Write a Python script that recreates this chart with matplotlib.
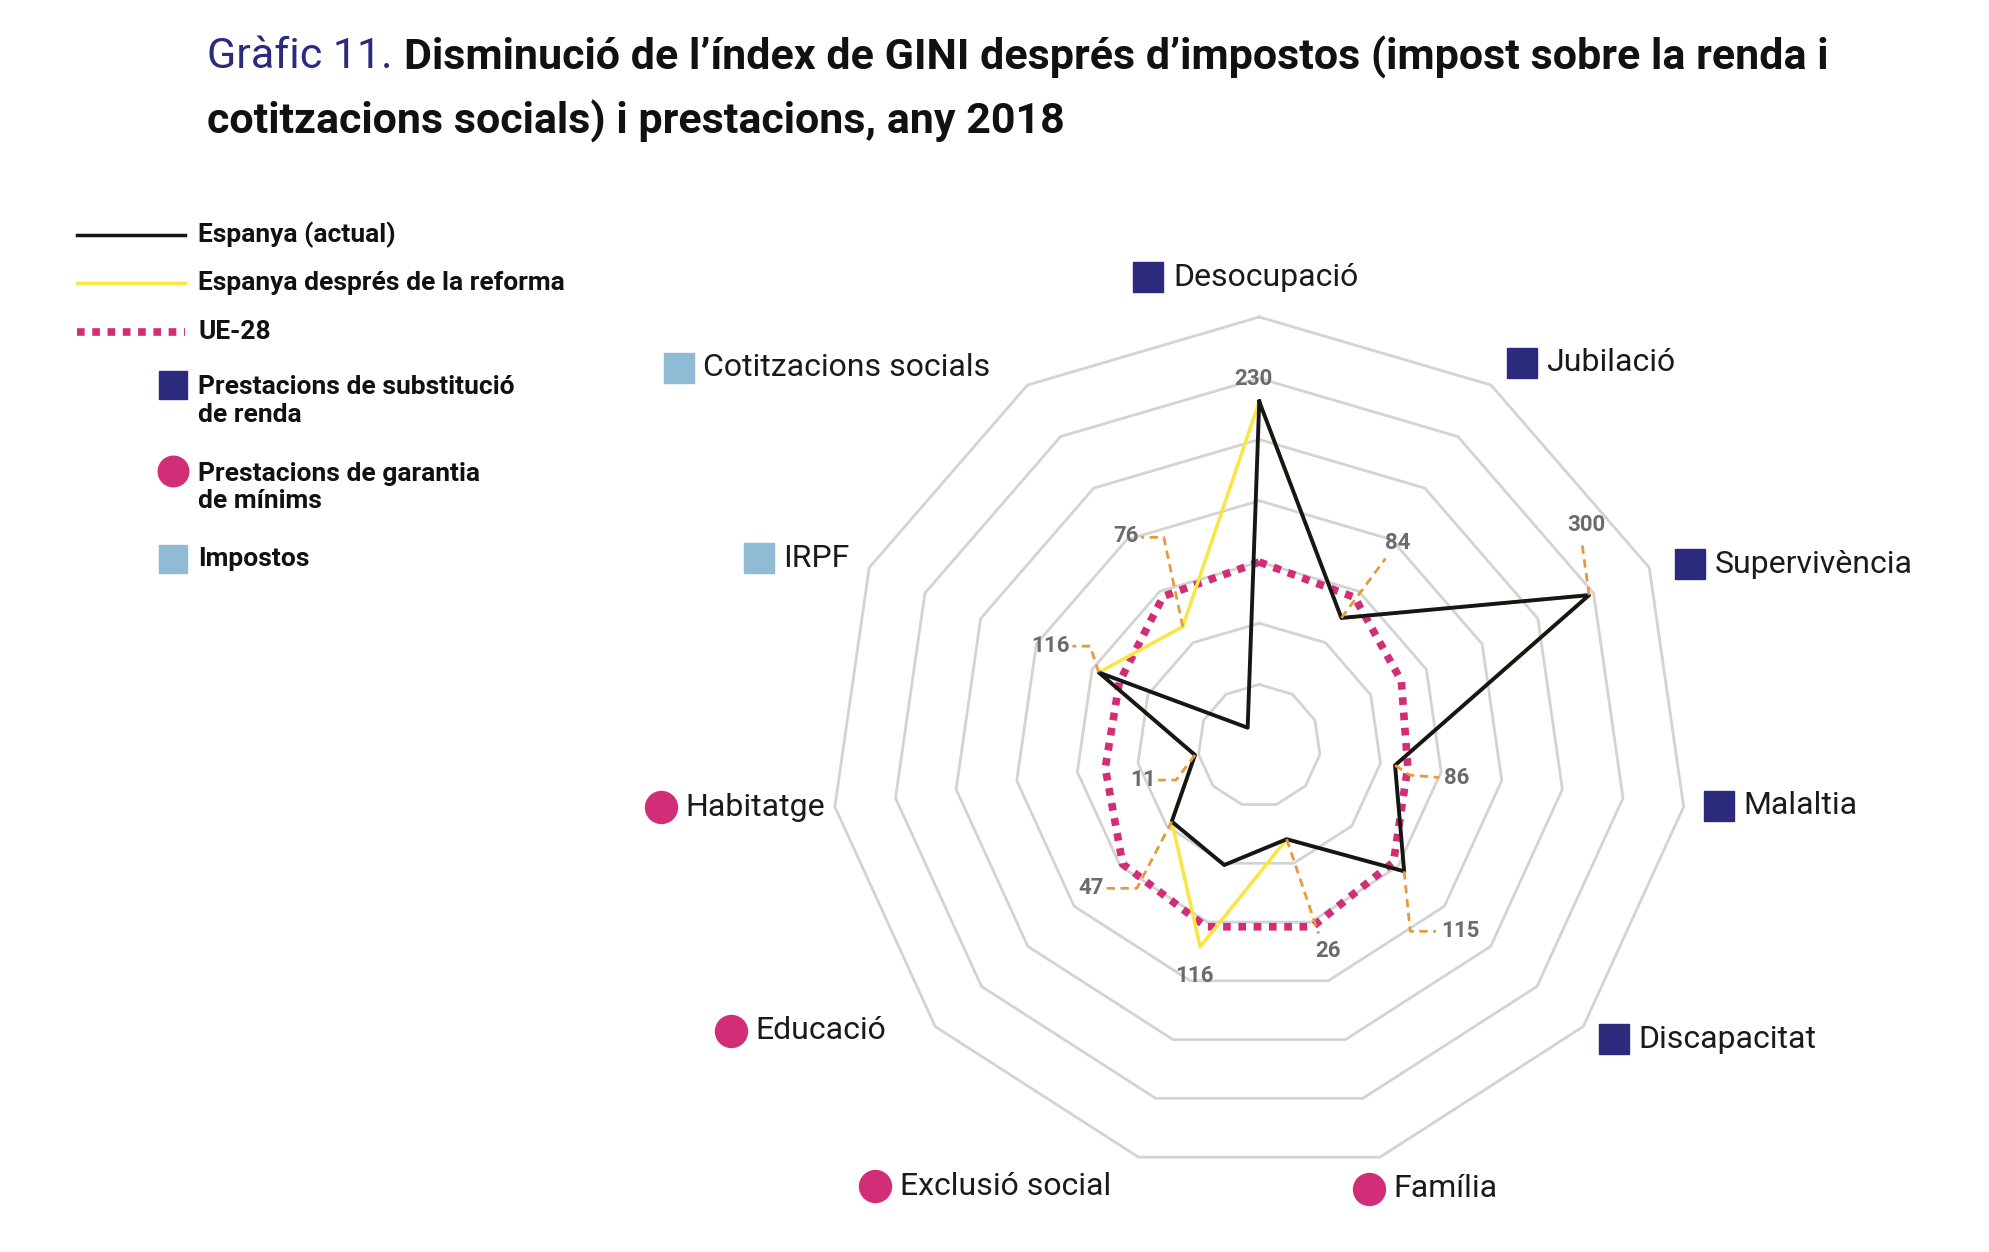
import numpy as np
import matplotlib.pyplot as plt

plt.rcParams['font.family'] = ['Roboto', 'DejaVu Sans']

categories = ['Desocupació', 'Jubilació', 'Supervivència', 'Malaltia', 'Discapacitat',
              'Família', 'Exclusió social', 'Educació', 'Habitatge', 'IRPF', 'Cotitzacions socials']
cat_type = ['renda', 'renda', 'renda', 'renda', 'renda',
            'minims', 'minims', 'minims', 'minims', 'impost', 'impost']
# values in ring units (7 rings)
espanya = [5.62, 2.48, 5.92, 2.24, 3.13, 1.59, 2.03, 1.89, 1.06, 2.88, 0.35]
reforma = [5.62, 2.48, 5.92, 2.24, 3.13, 1.59, 3.42, 1.89, 1.06, 2.88, 2.31]
ue28 = [3.0, 2.88, 2.55, 2.45, 2.9, 3.08, 3.08, 2.95, 2.54, 2.51, 2.9]
value_labels = ['230', '84', '300', '86', '115', '26', '116', '47', '11', '116', '76']

navy = '#2b2a7c'
pink = '#d12e77'
lblue = '#8fbcd4'
orange = '#e59a3c'
marker_col = {'renda': (navy, 's'), 'minims': (pink, 'o'), 'impost': (lblue, 's')}

n = len(categories)
theta = np.arange(n) * 2 * np.pi / n

def xy(r, t=theta):
    r = np.asarray(r, float)
    return r * np.sin(t), r * np.cos(t)

fig = plt.figure(figsize=(19.9, 12.52), dpi=100)
ax = fig.add_axes([708 / 1990, -45 / 1252, 1102.5 / 1990, 1102.5 / 1252])
ax.set_xlim(-9, 9)
ax.set_ylim(-9, 9)
ax.set_aspect('equal')
ax.axis('off')

for k in range(1, 8):
    x, y = xy(np.full(n, k))
    ax.plot(np.r_[x, x[0]], np.r_[y, y[0]], color='#d3d3d3', lw=2, zorder=1)

def closed(v):
    x, y = xy(v)
    return np.r_[x, x[0]], np.r_[y, y[0]]

ax.plot(*closed(ue28), color=pink, lw=5.5, ls=(0, (1, 1)), zorder=2)
ax.plot(*closed(reforma), color='#f9e640', lw=2.5, zorder=3)
ax.plot(*closed(espanya), color='#161616', lw=2.8, zorder=4)

# leader lines (offsets in ring units from the point) and label positions
ex, ey = xy(espanya)
rx, ry = xy(reforma)
leaders = {
    1: [(0.72, 0.97)], 2: [(-0.12, 0.88)], 3: [(0.24, -0.16), (0.72, -0.2)],
    4: [(0.1, -0.98), (0.52, -0.98)], 5: [(0.52, -1.54)], 7: [(-0.57, -1.09), (-1.07, -1.09)],
    8: [(-0.31, -0.41), (-0.6, -0.41)], 9: [(-0.14, 0.43), (-0.43, 0.43)],
    10: [(-0.31, 1.46), (-0.68, 1.46)],
}
label_pos = {
    0: (-0.1, 0.36, 'center'), 1: (0.92, 1.22, 'center'), 2: (-0.05, 1.15, 'center'),
    3: (0.8, -0.2, 'left'), 4: (0.6, -0.98, 'left'), 5: (0.68, -1.82, 'center'),
    6: (-0.1, -0.48, 'center'), 7: (-1.11, -1.09, 'right'), 8: (-0.64, -0.41, 'right'),
    9: (-0.47, 0.43, 'right'), 10: (-0.72, 1.48, 'right'),
}
for i in range(n):
    px, py = (rx[i], ry[i]) if i in (6, 10) else (ex[i], ey[i])
    if i in leaders:
        lx = [px] + [px + a for a, b in leaders[i]]
        ly = [py] + [py + b for a, b in leaders[i]]
        ax.plot(lx, ly, color=orange, lw=2, ls=(0, (3, 2)), zorder=5)
    dx, dy, ha = label_pos[i]
    ax.text(px + dx, py + dy, value_labels[i], ha=ha, va='center', fontsize=16,
            fontweight='bold', color='#6b6b6b', zorder=6)

# category labels
cat_pos = [(-1.81, 7.65), (4.29, 6.25), (7.04, 2.96), (7.5, -0.98), (5.79, -4.79),
           (1.79, -7.23), (-6.27, -7.19), (-8.63, -4.65), (-9.77, -1.0), (-8.17, 3.06),
           (-9.48, 6.17)]
for (mx, my), name, t in zip(cat_pos, categories, cat_type):
    col, mk = marker_col[t]
    ax.plot([mx], [my], marker=mk, ms=21 if mk == 's' else 23, color=col, clip_on=False)
    ax.text(mx + 0.4, my, name, ha='left', va='center', fontsize=23, color='#1a1a1a')

# title
fig.text(207 / 1990, 1 - 57 / 1252, 'Gràfic 11.', fontsize=31, color=navy, va='center')
fig.text(404 / 1990, 1 - 57 / 1252,
         'Disminució de l’índex de GINI després d’impostos (impost sobre la renda i',
         fontsize=31, fontweight='bold', color='#111111', va='center')
fig.text(207 / 1990, 1 - 121 / 1252, 'cotitzacions socials) i prestacions, any 2018',
         fontsize=31, fontweight='bold', color='#111111', va='center')

# legend
def fy(y):
    return 1 - y * 1.276 / 1252
x0, x1, xt = 77 / 1990, 185 / 1990, 198 / 1990
fig.add_artist(plt.Line2D([x0, x1], [fy(184)] * 2, color='#161616', lw=2.5))
fig.add_artist(plt.Line2D([x0, x1], [fy(222)] * 2, color='#f9e640', lw=2.5))
fig.add_artist(plt.Line2D([x0, x1], [fy(260)] * 2, color=pink, lw=5.5, ls=(0, (1, 1))))
legend_txt = [(184, 'Espanya (actual)'), (222, 'Espanya després de la reforma'), (260, 'UE-28'),
              (314, 'Prestacions de substitució\nde renda'),
              (382, 'Prestacions de garantia\nde mínims'), (438, 'Impostos')]
for y, s in legend_txt:
    fig.text(xt, fy(y), s, fontsize=19, fontweight='bold', color='#111111', va='center',
             linespacing=1.2)
fig.add_artist(plt.Line2D([173 / 1990], [fy(302)], marker='s', ms=20, color=navy))
fig.add_artist(plt.Line2D([173 / 1990], [fy(369)], marker='o', ms=22, color=pink))
fig.add_artist(plt.Line2D([173 / 1990], [fy(438)], marker='s', ms=20, color=lblue))

fig.savefig('out.png', dpi=100)
